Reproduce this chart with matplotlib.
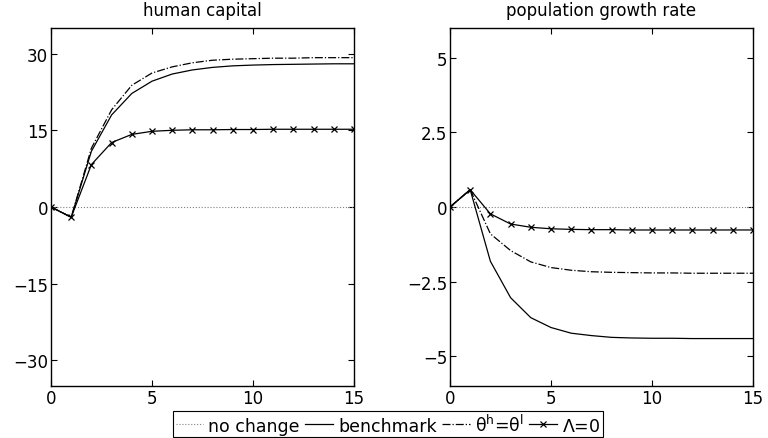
import numpy as np
import matplotlib
matplotlib.use('Agg')
import matplotlib.pyplot as plt

plt.rcParams['font.family'] = ['DejaVu Sans']
plt.rcParams['mathtext.fontset'] = 'dejavusans'
plt.rcParams['mathtext.default'] = 'regular'
plt.rcParams['font.size'] = 12

# periods
t = np.arange(16)

# human capital (percent deviation)
hc_bench = [0, -2, 10.9, 18.0, 22.2, 24.6, 26.0, 26.8, 27.3, 27.6, 27.75, 27.85, 27.9, 27.95, 28.0, 28.0]
hc_theta = [0, -2, 11.5, 19.0, 23.8, 26.2, 27.4, 28.2, 28.7, 28.9, 29.0, 29.1, 29.1, 29.2, 29.2, 29.2]
hc_lam = [0, -2, 8.3, 12.6, 14.2, 14.8, 15.0, 15.1, 15.1, 15.15, 15.15, 15.2, 15.2, 15.2, 15.2, 15.2]

# population growth rate
pg_bench = [0, 0.58, -1.82, -3.04, -3.71, -4.04, -4.23, -4.31, -4.37, -4.39, -4.40, -4.40, -4.41, -4.41, -4.41, -4.41]
pg_theta = [0, 0.58, -0.9, -1.46, -1.84, -2.03, -2.12, -2.17, -2.19, -2.2, -2.21, -2.21, -2.22, -2.22, -2.22, -2.22]
pg_lam = [0, 0.58, -0.23, -0.57, -0.68, -0.73, -0.75, -0.76, -0.76, -0.77, -0.77, -0.77, -0.77, -0.77, -0.77, -0.77]

fig = plt.figure(figsize=(7.68, 4.39), dpi=100)
ax1 = fig.add_axes([51/768, 52/439, 303/768, 358/439])
ax2 = fig.add_axes([450/768, 52/439, 303/768, 358/439])


def panel(ax, bench, theta, lam, ylim, yticks, title):
    ax.plot(t, np.zeros(len(t)), ':', color='0.5', lw=0.8, label='no change')
    ax.plot(t, bench, '-', color='k', lw=0.9, label='benchmark')
    ax.plot(t, theta, '-.', color='k', lw=0.9, label=r'$\theta^{h}$=$\theta^{l}$')
    ax.plot(t, lam, '-x', color='k', lw=0.9, ms=4, mew=0.9, label=r'$\Lambda$=0')
    ax.set_xlim(0, 15)
    ax.set_ylim(*ylim)
    ax.set_xticks([0, 5, 10, 15])
    ax.set_yticks(yticks)
    ax.set_yticklabels([('%g' % v).replace('-', '\u2212') for v in yticks])
    ax.tick_params(direction='in', top=True, right=True, length=4, width=0.8,
                   labelsize=12, pad=2)
    for s in ax.spines.values():
        s.set_linewidth(1.0)
    ax.set_title(title, fontsize=12, pad=9)


panel(ax1, hc_bench, hc_theta, hc_lam, (-35, 35), [-30, -15, 0, 15, 30], 'human capital')
panel(ax2, pg_bench, pg_theta, pg_lam, (-6, 6), [-5, -2.5, 0, 2.5, 5], 'population growth rate')

h, l = ax1.get_legend_handles_labels()
leg = fig.legend(h, l, loc='center', bbox_to_anchor=(0.505, 0.032), ncol=4,
                 fancybox=False, edgecolor='k', framealpha=1, handlelength=1.6,
                 handletextpad=0.3, columnspacing=0.3, borderpad=0.15, fontsize=12.5)
leg.get_frame().set_linewidth(0.8)

fig.savefig('out.png', dpi=100)
